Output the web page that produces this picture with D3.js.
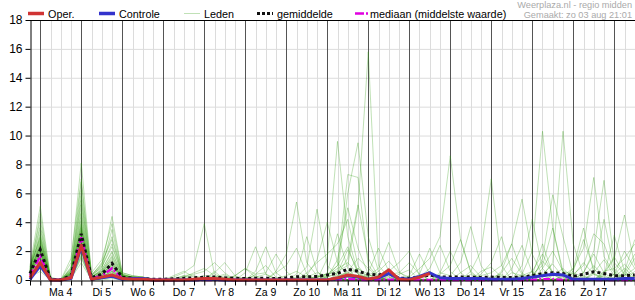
<!DOCTYPE html>
<meta charset="utf-8">
<head>
<style>
body { margin: 0; background: #fff; }
svg text { font-family: "Liberation Sans", Arial, sans-serif; }
.grid line { stroke: #dcdcdc; }
.day line { stroke: #555; }
</style>
</head>
<body>
<div id="chart"></div>
<script src="https://d3js.org/d3.v7.min.js"></script>
<script>

// 6-hourly steps, starting zo 3 aug 18:00
const stepHours = 6;
const dayLabels = ["Ma 4", "Di 5", "Wo 6", "Do 7", "Vr 8", "Za 9", "Zo 10",
                   "Ma 11", "Di 12", "Wo 13", "Do 14", "Vr 15", "Za 16", "Zo 17"];
const yTicks = [0, 2, 4, 6, 8, 10, 12, 14, 16, 18];

const oper = [0.15,1.2,0,0,0.15,2.4,0.05,0.2,0.35,0.1,0.05,0.05,0, 0,0,0,0.05, 0.1,0.1,0.05,0,
  0,0,0,0, 0,0,0,0, 0,0.15,0.35,0.25, 0.05,0.2,0.7,0.05, 0,0.2,0.45];

const controle = [0.05,1.0,0,0,0.1,2.3,0.05,0.15,0.25,0.05,0.1,0.1,0, 0,0,0,0, 0.05,0.05,0,0,
  0,0,0,0, 0,0,0,0, 0,0.1,0.3,0.2, 0.05,0.15,0.45,0.1, 0.05,0.25,0.5,0.15, 0.1,0.1,0.1,0.1,
  0.05,0.05,0.05,0.1, 0.2,0.3,0.4,0.35, 0.05,0.05,0.05,0.05, 0.05,0.1,0.1];

const gemiddelde = [0.45,2.1,0.05,0.02,0.3,3.2,0.15,0.4,1.15,0.2,0.12,0.1,0.05, 0.05,0.08,0.12,0.15,
  0.2,0.2,0.15,0.12, 0.1,0.12,0.12,0.1, 0.15,0.22,0.22,0.25, 0.35,0.45,0.75,0.6, 0.4,0.35,0.45,0.12,
  0.12,0.2,0.35,0.2, 0.2,0.2,0.2,0.18, 0.2,0.18,0.18,0.2, 0.3,0.45,0.5,0.45, 0.25,0.4,0.57,0.45,
  0.3,0.3,0.35];

const mediaan = [0.3,1.65,0,0,0.2,2.95,0.1,0.3,0.8,0.1,0.08,0.05,0, 0,0,0,0, 0,0,0,0, 0,0,0,0,
  0,0,0,0, 0,0.02,0.05,0.02, 0,0,0.02,0, 0,0,0,0, 0,0,0,0, 0,0,0,0, 0,0.05,0.05,0,
  0,0,0.02,0, 0,0,0];

const leden = [
  [0.5,2.1,0,0,0.3,3.2,0.1,0.4,1.0,0.2,0.1,0.1,0, 0,0.2,0.5,1.0, 3.9,0.4,0.1,0, 0,0,0.1,0, 0,0,0.2,0.5, 0.3,0.8,1.2,0.4, 0.1,0,0,0, 0,0.2,0.6,0.1, 0,0,0,0, 0,0.3,0,0, 0,0.4,1.1,0.2, 0,0,0.5,1.4, 0.3,0,0.2],
  [0.8,3.0,0.1,0,0.5,4.1,0.2,0.6,1.6,0.3,0.2,0.1,0, 0,0,0,0.1, 0.3,0.2,0,0, 0.5,2.3,0.4,0, 0,0,0,0.3, 0.2,0.5,2.1,0.6, 0,0.3,0.8,0.1, 0,0,0,0, 0.1,0.2,0,0, 0,0,0.8,2.4, 0.5,0,0,0, 0,0.2,1.0,0.3, 0,0,0],
  [0.3,1.5,0,0,0.2,2.6,0,0.2,0.6,0.1,0.1,0,0, 0,0,0.1,0, 0,0.1,0.3,0, 0,0.6,2.3,0.5, 0,0.1,0,0, 0,0.2,0.6,1.5, 0.8,0.2,0,0, 0,0,0,0.3, 0,0,0.4,0, 0,0,0,0, 0.2,1.3,0.6,0, 0,0,0,0, 0.4,1.1,0.3],
  [1.0,5.1,0.2,0,0.8,5.8,0.3,0.9,2.3,0.4,0.2,0.2,0.1, 0,0,0,0, 0,0,0.1,0.2, 0.1,0,0,0.6, 1.8,5.4,1.2,0.3, 0,0.1,0.4,0.2, 0,0,0,0, 0.2,0,0,0, 0,0,0,0.6, 0.9,0.2,0,0, 0,0,0.3,0.8, 0.1,0,0,0, 0,0.5,1.8],
  [0.6,2.4,0,0,0.4,3.6,0.1,0.5,1.2,0.2,0.1,0.1,0, 0,0.1,0,0, 0,0.5,1.2,0.3, 0,0,0,0, 0,0.2,0.9,4.9, 1.0,0.3,0.5,0.8, 0.2,0,0,0.4, 0.7,0,0,0, 0,0,0,0, 0,0,0.2,0, 0,0,0,0, 0.3,1.2,0.4,0, 0,0,0],
  [0.2,1.1,0,0,0.1,1.8,0,0.1,0.3,0.1,0,0,0, 0,0,0,0, 0.1,0,0,0, 0,0,0,0.1, 0.3,0.6,0.2,0, 1.5,9.6,3.0,0.5, 0,0,0.2,0, 0,0,0,0, 0,0.5,1.0,0.2, 0,0,0,0, 0,0,0,0, 0,0,0,0.5, 1.6,0.4,0],
  [0.7,2.8,0.1,0,1.2,8.1,0.4,1.0,4.4,0.5,0.3,0.2,0, 0,0,0.2,0.3, 0.1,0,0,0, 0,0,0,0, 0,0,0,0.2, 0.4,1.0,7.3,7.1, 1.0,0.2,0,0, 0,0,0,0, 0,0,0,0, 0,0,0.5,0.3, 0,0,0,0, 0,0,0,0, 0,0,0],
  [0.4,1.8,0,0,0.3,2.9,0.1,0.3,0.8,0.1,0.1,0.1,0, 0,0,0,0, 0,0,0,0, 0,0.2,0.4,0.1, 0,0,0,0, 0.2,0.5,6.0,9.5, 3.0,0.6,0,0, 0,0,0,0, 0,0,0,0, 0,0,0,0, 0.6,1.8,0.4,0, 0,0,0,0, 0,0,0.6],
  [0.9,4.2,0.1,0,0.6,4.6,0.2,0.7,1.9,0.3,0.2,0.1,0, 0,0,0,0, 0,0,0,0, 0,0,0,0, 0,0,0.1,0.2, 0.4,0.6,1.0,5.0, 15.8,1.0,0.2,0, 0,0,0,0, 0,0,0,0, 0,0,0,0, 0,0,0,0, 0,0,0,0, 0,0,0],
  [0.3,1.3,0,0,0.2,2.2,0,0.2,0.5,0.1,0.1,0,0, 0,0,0,0, 0,0,0,0, 0,0,0,0, 0,0,0,0, 0,0.2,0.5,0.3, 0.2,0.6,1.3,0.5, 0.2,0.8,1.5,3.0, 8.6,2.8,0.5,0, 0,0,0,0, 0,0,0,0, 0,0,0.4,0.2, 0,0,0],
  [0.5,2.0,0,0,0.4,3.4,0.1,0.4,1.1,0.2,0.1,0.1,0, 0,0,0,0, 0,0,0.2,0, 0,0,0,0, 0,0,0,0, 0,0,0.3,0.8, 0.4,0,0,0, 0,0.4,2.2,0.5, 0.3,1.2,3.7,1.0, 0,0,0,0, 0,0,0,0, 0.5,0.2,0,0, 0,0,0],
  [0.6,2.6,0.1,0,0.6,4.3,0.2,0.8,3.5,0.3,0.2,0.1,0, 0,0,0,0, 0,0,0,0, 0,0,0,0, 0,0.1,0.3,0, 0,0,0,0, 0,0,0,0, 0,0,0,0.2, 0,0,0.6,2.0, 7.0,1.0,0,0, 0,0,0,0, 0,0,0,0, 0,0.3,0.8],
  [0.2,0.8,0,0,0.1,1.5,0,0.1,0.2,0,0,0,0, 0,0,0,0, 0,0,0,0, 0,0,0,0, 0,0,0,0, 0,0.3,0.2,0, 0,0,0,0, 0,0,0,0, 0,0,0,0.3, 0.5,1.0,2.5,5.6, 1.8,0.3,0,0, 0,0,0,0, 0,0,0],
  [0.5,2.2,0,0,0.3,3.0,0.1,0.3,0.9,0.2,0.1,0.1,0, 0,0,0,0, 0,0,0,0, 0,0,0,0, 0,0,0,0, 0,0,0,0.2, 0,0,0,0, 0,0,0,0, 0,0,0,0, 0,0,0,0.4, 2.0,10.3,3.6,0.4, 0,0,0,0, 0,0,0],
  [0.8,3.6,0.1,0,0.9,6.2,0.3,1.2,2.8,0.4,0.2,0.2,0, 0,0,0,0, 0,0,0,0, 0,0,0,0, 0,0,0,0, 0,0,0,0, 0,0.2,0,0, 0,0,0,0, 0,0,0,0, 0,0,0,0, 0,0.3,1.2,10.3, 2.5,0.3,0,0, 0,0,0],
  [0.4,1.7,0,0,0.2,2.5,0,0.2,0.7,0.1,0.1,0,0, 0,0,0,0, 0,0,0,0, 0,0,0,0, 0,0,0,0, 0,0,0.4,0, 0,0,0,0, 0,0,0,0, 0,0,0,0, 0.2,0.4,0,0, 0,1.5,5.9,3.0, 0.4,0,0,0, 0,0,0],
  [0.6,2.3,0,0,0.5,3.8,0.1,0.5,1.3,0.2,0.1,0.1,0, 0,0,0,0, 0,0,0,0, 0,0,0,0, 0,0,0,0, 0,0,0,0, 0,0,0,0, 0,0,0,0, 0,0,0,0, 0,0,0,0, 0,0,0,0.3, 0.8,2.2,7.1,1.6, 0.5,0,0],
  [0.3,1.2,0,0,0.2,2.0,0,0.1,0.4,0.1,0,0,0, 0,0,0,0, 0,0,0,0, 0,0,0,0, 0,0,0,0, 0,0,0,0, 0,0,0,0, 0,0,0,0, 0,0,0,0, 0,0,0,0, 0,0,0,0, 0,0.5,2.0,6.9, 1.2,0.4,0.2],
  [0.7,3.3,0.1,0,0.7,5.2,0.2,0.6,1.7,0.3,0.2,0.1,0, 0,0,0,0, 0,0,0,0, 0,0,0,0, 0,0,0,0, 0,0,0,0, 0,0,0,0, 0,0,0,0, 0,0,0,0, 0,0,0,0.3, 0.6,0,0,0, 0,0,0,0.4, 1.5,4.5,1.0],
  [0.4,1.9,0,0,0.3,2.7,0.1,0.3,0.8,0.1,0.1,0.1,0, 0,0.1,0.3,0, 0.2,0,0,0, 0.2,0,0,0.5, 1.0,2.2,0.4,0, 0,0,0,0, 0.3,0.8,2.6,0.6, 0,0,0,0, 0,0,0,0, 0,0,0,0, 0,0,0,0, 0,0.5,1.8,0.5, 0,0,0],
  [0.5,2.5,0,0,0.4,3.3,0.1,0.4,1.0,0.2,0.1,0.1,0, 0,0,0,0, 0,0.6,0,0, 0,0,0,0, 0,0,0,0, 0,0,0.2,0.3, 0,0,0,0, 0,0.2,0.8,2.4, 0.6,0,0,0, 0,0,0,0, 0.4,1.0,3.6,0.6, 0,0,0,0, 0,0,0],
  [0.2,0.6,0,0,0.1,1.2,0,0,0.1,0,0,0,0, 0,0,0,0, 0,0,0,0, 0,0,0,0, 0,0,0.5,1.2, 1.8,2.5,4.2,1.0, 0,0,0,0, 0,0,0,0, 0,0,0,0, 0,0,0,0, 0,0,0,0.2, 0.6,2.8,0.8,0, 0,0.3,1.5],
  [0.9,2.9,0.1,0,1.5,7.0,0.5,1.4,3.9,0.5,0.3,0.2,0, 0,0,0,0, 0,0.2,0.4,0, 0,0,0,0, 0,0,0,0, 0,0,0,0, 0,0,0.3,0, 0,0,0,0.4, 1.0,2.8,0.6,0, 0,0.6,2.5,0.5, 0,0,0,0, 0,0,0,0, 0.2,0.8,0.2],
  [0.5,1.6,0,0,0.3,2.4,0,0.2,0.6,0.1,0.1,0,0, 0,0,0,0, 0,0,0,0, 0,0,0,0, 0,0,0.3,1.4, 4.0,1.2,0.3,0, 0,0,0,0, 0,0,0,0, 0,0,0,0, 0,0,0,0, 0,0,0,0, 0,0,0,0, 0,0,0],
  [0.6,2.7,0.1,0,0.5,3.9,0.2,0.6,1.4,0.2,0.1,0.1,0, 0,0,0,0, 0,0,0,0, 0.1,0.3,0,0, 0,0,0,0, 0,0.4,1.5,5.2, 1.5,0.2,0,0, 0,0,0,0, 0,0,0,0, 0,0,0,0, 0,0,0,0, 0,0,0,0.6, 0.8,1.5,2.5],
  [0.3,1.4,0,0,0.2,2.1,0,0.1,0.5,0.1,0.1,0,0, 0,0,0,0, 0,0,0,0, 0,0,0,0, 0,0,0,0, 0,0,0,0, 0,0,0,0, 0,0,0,0, 0,0,0,0, 0,0,0,0, 0,0.8,2.0,0.6, 0.4,1.0,3.2,2.5, 0.6,0,0],
  [0.7,3.1,0.1,0,0.6,4.8,0.2,0.7,2.0,0.3,0.2,0.1,0, 0,0,0.3,0.4, 0.6,1.2,0.5,0, 0,0.4,1.0,0.2, 0,0,0,0, 0,0,0,0, 0,0,0,0, 0.3,1.8,0.4,0, 0,0,0,0, 0,0,0,0, 0,0,0,0, 0,0,0,0, 0,0,0],
  [0.4,1.9,0,0,0.3,3.1,0.1,0.3,0.9,0.2,0.1,0.1,0, 0,0,0,0, 0,0,0,0, 0,0,0,0, 0,0,0,0, 0,0,0,0, 0.5,2.2,0.6,1.2, 2.0,0.3,0,0, 0,0,0,0, 0,0,0,0, 0,0,0,0, 0,0,0,0.3, 3.1,0.6,0],
  [0.5,2.0,0,0,0.4,2.8,0.1,0.4,1.1,0.2,0.1,0.1,0, 0,0,0,0, 0,0,0,0.3, 0.8,0.2,0,0, 0,0.4,3.0,0.6, 0,0,0,0, 0,0,0,0, 0,0,0,0, 0,0,0,0.4, 1.2,3.0,0.6,0, 0,0,0,0, 0,0,0,0, 0,0,0],
  [0.8,3.8,0.1,0,0.7,5.5,0.3,1.1,3.0,0.4,0.2,0.2,0, 0,0,0,0, 0,0,0,0, 0,0,0,0, 0,0,0,0, 0.3,1.0,2.3,0.4, 0,0,0,0, 0,0,0,0, 0,0,0,0, 0,0,0,0, 0.3,2.5,0.4,0, 0,0,0.6,4.2, 0.8,0,0],
  [0.3,1.0,0,0,0.1,1.7,0,0.1,0.3,0.1,0,0,0, 0,0,0,0, 0,0,0,0, 0,0,0,0, 0,0,0,0, 0,0,0,0, 0,0,0,0, 0,0,0,0.5, 2.0,0.5,0,0, 0,0,0,0, 0,0,0,0, 0,0,0,0, 0,0.6,2.8],
  [0.6,2.2,0,0,0.4,3.5,0.1,0.5,1.2,0.2,0.1,0.1,0, 0,0,0,0, 0,0,0,0, 0,0,0,0, 0,0,0,0, 0,0,0,0, 0,0,0,0, 0,0,0,0, 0,0,0,0, 0,0,0,1.0, 4.2,0.8,0,0, 0,0,0,0, 0,0,0],
  [0.4,1.6,0,0,0.2,2.3,0,0.2,0.6,0.1,0.1,0,0, 0,0,0.2,0.5, 0.8,0.3,0,0, 0,0,0,0, 0,0,0,0, 0,0,0,0, 0,0,0.4,0.5, 1.2,0.4,0,0, 0,0,0,0, 0,0,0,0, 0,0,0,0, 0,0,0,0, 0,0,0],
  [0.5,2.4,0.1,0,0.5,3.7,0.1,0.5,1.5,0.2,0.1,0.1,0, 0,0,0,0, 0,0,0,0, 0,0,0,0, 0,0,0,0, 0.5,3.2,0.8,0, 0,0,0,0, 0,0,0,0, 0,0,0,0, 0,0,0,0, 0,0,0,0, 0.8,3.6,0.5,0, 0,0,0],
  [0.6,4.6,0.1,0,0.8,6.8,0.3,0.9,2.5,0.3,0.2,0.1,0, 0,0.3,0.6,0.2, 0,0,0,0.3, 0.8,0.4,0.5,1.8, 0.6,0,0,0, 0,0,0,0, 0,0,0,0, 0,0,0,0, 0,0,0,0, 0,0,0,0, 0,0,0,0, 0,0,0,0, 0,0,0],
  [0.2,0.9,0,0,0.1,1.6,0,0.1,0.2,0,0,0,0, 0,0,0,0, 0,0,0,0, 0,0,0,0, 0,0,0,0, 0.2,1.4,5.0,2.2, 0.4,0,0,0, 0,0,0,0, 0,0,0,0, 0,0.5,1.5,0.4, 0,0,0,0, 0,0,0,0, 0.4,2.0,0.8]
];

var width = 635,
    height = 300;

const svg = d3.select('#chart')
    .append('svg')
    .attr('width', width)
    .attr('height', height);

const x = d3.scaleLinear()
    .domain([0, 59 * stepHours])
    .range([30, 30 + 59 * 10.25]);

const y = d3.scaleLinear()
    .domain([0, 18])
    .range([280, 20]);

const allSteps = d3.range(0, 60).map(function(i) { return i * stepHours; });
const dayStarts = d3.range(0, 15).map(function(k) { return 6 + k * 24; });

// light grid
const grid = svg.append('g').attr('class', 'grid');
grid.selectAll('line.h')
    .data(yTicks.slice(1, -1))
    .enter().append('line')
    .attr('x1', 30).attr('x2', width)
    .attr('y1', function(d) { return y(d) + 0.5; })
    .attr('y2', function(d) { return y(d) + 0.5; });
grid.selectAll('line.v')
    .data(allSteps.filter(function(h) { return h > 0 && (h - 6) % 24 !== 0; }))
    .enter().append('line')
    .attr('x1', function(d) { return Math.round(x(d)) + 0.5; })
    .attr('x2', function(d) { return Math.round(x(d)) + 0.5; })
    .attr('y1', y(18)).attr('y2', y(0));

// day lines
svg.append('g').attr('class', 'day')
  .selectAll('line')
    .data(dayStarts)
    .enter().append('line')
    .attr('x1', function(d) { return Math.round(x(d)) + 0.5; })
    .attr('x2', function(d) { return Math.round(x(d)) + 0.5; })
    .attr('y1', y(18)).attr('y2', y(0));

const line = d3.line()
    .x(function(d, i) { return x(i * stepHours); })
    .y(function(d) { return y(d); });

// ensemble members
svg.append('g')
  .selectAll('path')
    .data(leden)
    .enter().append('path')
    .attr('d', line)
    .attr('fill', 'none')
    .attr('stroke', '#2f9a0c')
    .attr('stroke-opacity', 0.3)
    .attr('stroke-width', 1);

svg.append('path')
    .attr('d', line(mediaan))
    .attr('fill', 'none')
    .attr('stroke', '#e000e0')
    .attr('stroke-width', 2.5)
    .attr('stroke-dasharray', '7,2,2,2');

svg.append('path')
    .attr('d', line(gemiddelde))
    .attr('fill', 'none')
    .attr('stroke', '#111')
    .attr('stroke-width', 3)
    .attr('stroke-dasharray', '3,3');

svg.append('path')
    .attr('d', line(controle))
    .attr('fill', 'none')
    .attr('stroke', '#3333cc')
    .attr('stroke-width', 3)
    .attr('stroke-linejoin', 'round');

svg.append('path')
    .attr('d', line(oper))
    .attr('fill', 'none')
    .attr('stroke', '#d03434')
    .attr('stroke-width', 3)
    .attr('stroke-linejoin', 'round');

// axes
const yAxis = svg.append('g')
    .attr('transform', 'translate(30.5,0)')
    .call(d3.axisLeft(y).tickValues(yTicks).tickSize(5).tickPadding(3).tickSizeOuter(0));
yAxis.select('.domain').attr('stroke', '#000');
yAxis.selectAll('text').attr('font-size', 12).attr('fill', '#000')
    .attr('font-family', '"Liberation Sans", Arial, sans-serif');

const xAxis = svg.append('g')
    .attr('transform', 'translate(0,280.5)')
    .call(d3.axisBottom(x).tickValues(allSteps).tickSize(5).tickFormat('').tickSizeOuter(0));
xAxis.select('.domain').attr('stroke', '#000');
xAxis.selectAll('.tick line').attr('transform', function() {
  return 'translate(' + 0 + ',0)';
});

svg.append('g')
  .selectAll('text')
    .data(dayLabels)
    .enter().append('text')
    .attr('x', function(d, k) { return x(18 + k * 24); })
    .attr('y', 296)
    .attr('text-anchor', 'middle')
    .attr('font-size', 10.5)
    .text(function(d) { return d; });

// top border
svg.append('line')
    .attr('x1', 30).attr('x2', width)
    .attr('y1', 20.5).attr('y2', 20.5)
    .attr('stroke', '#000');

// legend
const legend = svg.append('g').attr('font-size', 10.8);
const legendItems = [
  { label: 'Oper.', x: 28, stroke: '#d03434', w: 3.5, dash: null, op: 1 },
  { label: 'Controle', x: 99, stroke: '#3333cc', w: 3.5, dash: null, op: 1 },
  { label: 'Leden', x: 184, stroke: '#2f9a0c', w: 1, dash: null, op: 0.3 },
  { label: 'gemiddelde', x: 257, stroke: '#111', w: 3, dash: '3,2', op: 1 },
  { label: 'mediaan (middelste waarde)', x: 355, stroke: '#e000e0', w: 2.5, dash: '9,2,2,20', op: 1 }
];
legendItems.forEach(function(d) {
  legend.append('line')
      .attr('x1', d.x).attr('x2', d.x + 16)
      .attr('y1', 13.5).attr('y2', 13.5)
      .attr('stroke', d.stroke)
      .attr('stroke-width', d.w)
      .attr('stroke-opacity', d.op)
      .attr('stroke-dasharray', d.dash);
  legend.append('text')
      .attr('x', d.label === 'mediaan (middelste waarde)' ? 370 : d.x + 20)
      .attr('y', 17.5)
      .text(d.label);
});

svg.append('text')
    .attr('x', 632).attr('y', 8)
    .attr('text-anchor', 'end')
    .attr('font-size', 9.2)
    .attr('fill', '#aaa')
    .text('Weerplaza.nl - regio midden');
svg.append('text')
    .attr('x', 632).attr('y', 18)
    .attr('text-anchor', 'end')
    .attr('font-size', 9.2)
    .attr('fill', '#aaa')
    .text('Gemaakt: zo 03 aug 21:01');

</script>
</body>
